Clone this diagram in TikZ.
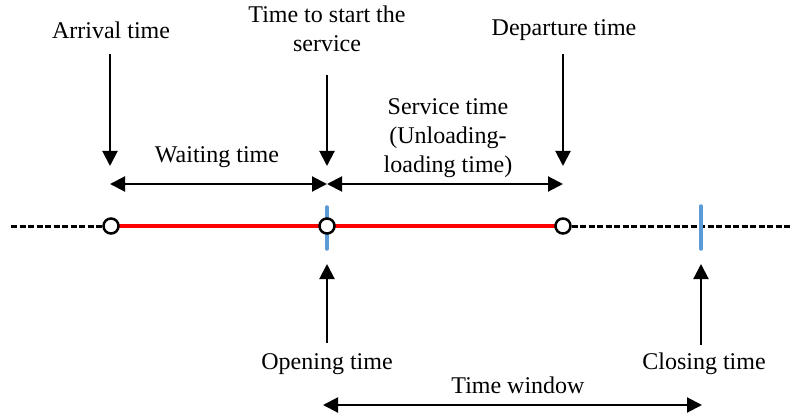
\documentclass[tikz,border=0pt]{standalone}
\usepackage{fontspec}
\setmainfont{Liberation Serif}
\usetikzlibrary{arrows.meta}
\definecolor{tickblue}{RGB}{91,155,213}

\tikzset{
  lbl/.style={font=\fontsize{24}{29}\selectfont, align=center, inner sep=0pt},
  arr/.style={line width=2pt, -{Triangle[length=15pt,width=15pt]}},
  darr/.style={line width=2pt, {Triangle[length=15pt,width=15pt]}-{Triangle[length=15pt,width=15pt]}},
  evpt/.style={circle, draw, line width=2.5pt, fill=white, minimum size=15pt, inner sep=0pt},
  tickmark/.style={draw=tickblue, line width=3.5pt, line cap=round},
  dashline/.style={line width=3pt, dash pattern=on 6pt off 2.5pt},
}

\begin{document}
\begin{tikzpicture}[x=1pt,y=-1pt]
\useasboundingbox (0,0) rectangle (793,417);
% points on the time line
\coordinate (lend) at (11,226);
\coordinate (pa) at (111,226);
\coordinate (ps) at (327,226);
\coordinate (pd) at (563,226);
\coordinate (pc) at (701,226);
\coordinate (rend) at (792,226);
\draw[dashline] (lend) -- (pa);
\draw[dashline] (pd) -- (rend);
\draw[red, line width=4pt] (pa) -- (pd);
\draw[tickmark] ([yshift=-23pt]ps) -- ([yshift=19pt]ps);
\draw[tickmark] ([yshift=-23pt]pc) -- ([yshift=20pt]pc);
\node[evpt] (arrival) at (pa) {};
\node[evpt] (start) at (ps) {};
\node[evpt] (depart) at (pd) {};

% labels
\node[lbl] (arrlbl) at (111,30) {Arrival time};
\node[lbl] (startlbl) at (327,29) {Time to start the\\service};
\node[lbl] (deplbl) at (564,30) {Departure time};
\node[lbl] (waitlbl) at (217,157) {Waiting time};
\node[lbl] (servlbl) at (448,138) {Service time\\(Unloading-\\loading time)};
\node[lbl] (openlbl) at (327,364) {Opening time};
\node[lbl] (closelbl) at (704,364) {Closing time};
\node[lbl] (winlbl) at (518,385) {Time window};

% arrows
\coordinate (a0) at (110,54);  \coordinate (a1) at (110,166);
\coordinate (s0) at (327,75);  \coordinate (s1) at (327,166);
\coordinate (d0) at (563,54);  \coordinate (d1) at (563,166);
\draw[arr] (a0) -- (a1);
\draw[arr] (s0) -- (s1);
\draw[arr] (d0) -- (d1);
\coordinate (wa) at (110,184); \coordinate (wb) at (327,184); \coordinate (wc) at (563,184);
\draw[darr] (wa) -- (wb);
\draw[darr] (wb) -- (wc);
\coordinate (o0) at (327,343); \coordinate (o1) at (327,264);
\coordinate (c0) at (701,345); \coordinate (c1) at (701,264);
\draw[arr] (o0) -- (o1);
\draw[arr] (c0) -- (c1);
\coordinate (tw0) at (323,405); \coordinate (tw1) at (702,405);
\draw[darr] (tw0) -- (tw1);
\end{tikzpicture}
\end{document}
